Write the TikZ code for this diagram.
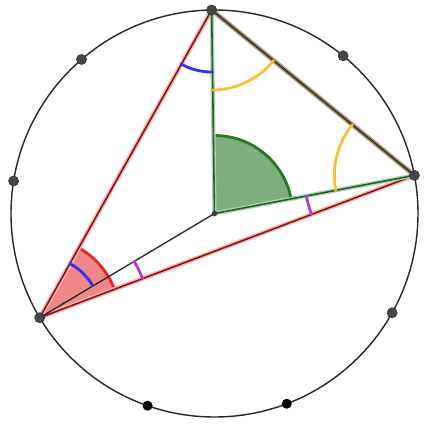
\documentclass[tikz,border=0pt]{standalone}
\usepackage{tikz}
\definecolor{angred}{RGB}{228,38,38}
\definecolor{angblue}{RGB}{50,50,240}
\definecolor{angyellow}{RGB}{250,190,60}
\definecolor{angpurple}{RGB}{180,60,200}
\definecolor{anggreen}{RGB}{40,120,40}
\definecolor{sidebrown}{RGB}{75,58,28}
\definecolor{sidered}{RGB}{120,25,25}

\begin{document}
\begin{tikzpicture}[x=0.02cm,y=0.02cm,line cap=round,
  vtx/.style={circle,draw=black!80,fill=black!72,inner sep=0pt,minimum size=0.2cm},
  vtxb/.style={circle,fill=black,inner sep=0pt,minimum size=0.2cm},
  ctr/.style={circle,fill=black!75,inner sep=0pt,minimum size=0.11cm},
  rim/.style={draw=black!85,line width=0.8pt},
  redside/.style={draw=sidered,line width=0.9pt,preaction={draw=red!30,line width=2.6pt}},
  brownside/.style={draw=sidebrown,line width=1.1pt,preaction={draw=sidebrown!45,line width=2.8pt}},
  greenside/.style={draw=anggreen!80!black,line width=0.9pt,preaction={draw=anggreen!35,line width=2.4pt}},
  radial/.style={draw=black!85,line width=0.75pt},
  gsect/.style={fill=anggreen!60,draw=anggreen,line width=1.6pt},
  rsect/.style={fill=angred!55,draw=angred,line width=1.6pt},
  bluemark/.style={draw=angblue,line width=1.6pt},
  yellowmark/.style={draw=angyellow,line width=1.6pt},
  purplemark/.style={draw=angpurple,line width=1.6pt}]

\useasboundingbox (-214.5,-213.5) rectangle (215.5,213.5);

\coordinate (O) at (0,0);
\coordinate (A) at (90.8:203.5);
\coordinate (B) at (10.8:203.5);
\coordinate (C) at (210.8:203.5);

\draw[rim] (O) circle[radius=203.5];

\filldraw[gsect] (O) -- ++(10.8:78) arc[start angle=10.8,end angle=90.8,radius=78] -- cycle;
\filldraw[rsect] (C) -- ++(20.8:80) arc[start angle=20.8,end angle=60.8,radius=80] -- cycle;

\draw[redside] (A) -- (C) -- (B);
\draw[brownside] (A) -- (B);
\draw[greenside] (A) -- (O) -- (B);
\draw[radial] (O) -- (C);

\draw[bluemark] (A) ++(240.8:62) arc[start angle=240.8,end angle=270.8,radius=62];
\draw[bluemark] (C) ++(30.8:62) arc[start angle=30.8,end angle=60.8,radius=62];
\draw[yellowmark] (A) ++(270.8:80) arc[start angle=270.8,end angle=320.8,radius=80];
\draw[yellowmark] (B) ++(140.8:80) arc[start angle=140.8,end angle=190.8,radius=80];
\draw[purplemark] (B) ++(190.8:110) arc[start angle=190.8,end angle=200.8,radius=110];
\draw[purplemark] (C) ++(20.8:110) arc[start angle=20.8,end angle=30.8,radius=110];

\node[vtx](p1) at (B) {};
\node[vtx](p2) at (50.8:203.5) {};
\node[vtx](p3) at (A) {};
\node[vtx](p4) at (130.8:203.5) {};
\node[vtx](p5) at (170.8:203.5) {};
\node[vtx](p6) at (C) {};
\node[vtxb](p7) at (250.8:203.5) {};
\node[vtxb](p8) at (290.8:203.5) {};
\node[vtx](p9) at (330.8:203.5) {};
\node[ctr](o) at (O) {};

\end{tikzpicture}
\end{document}
